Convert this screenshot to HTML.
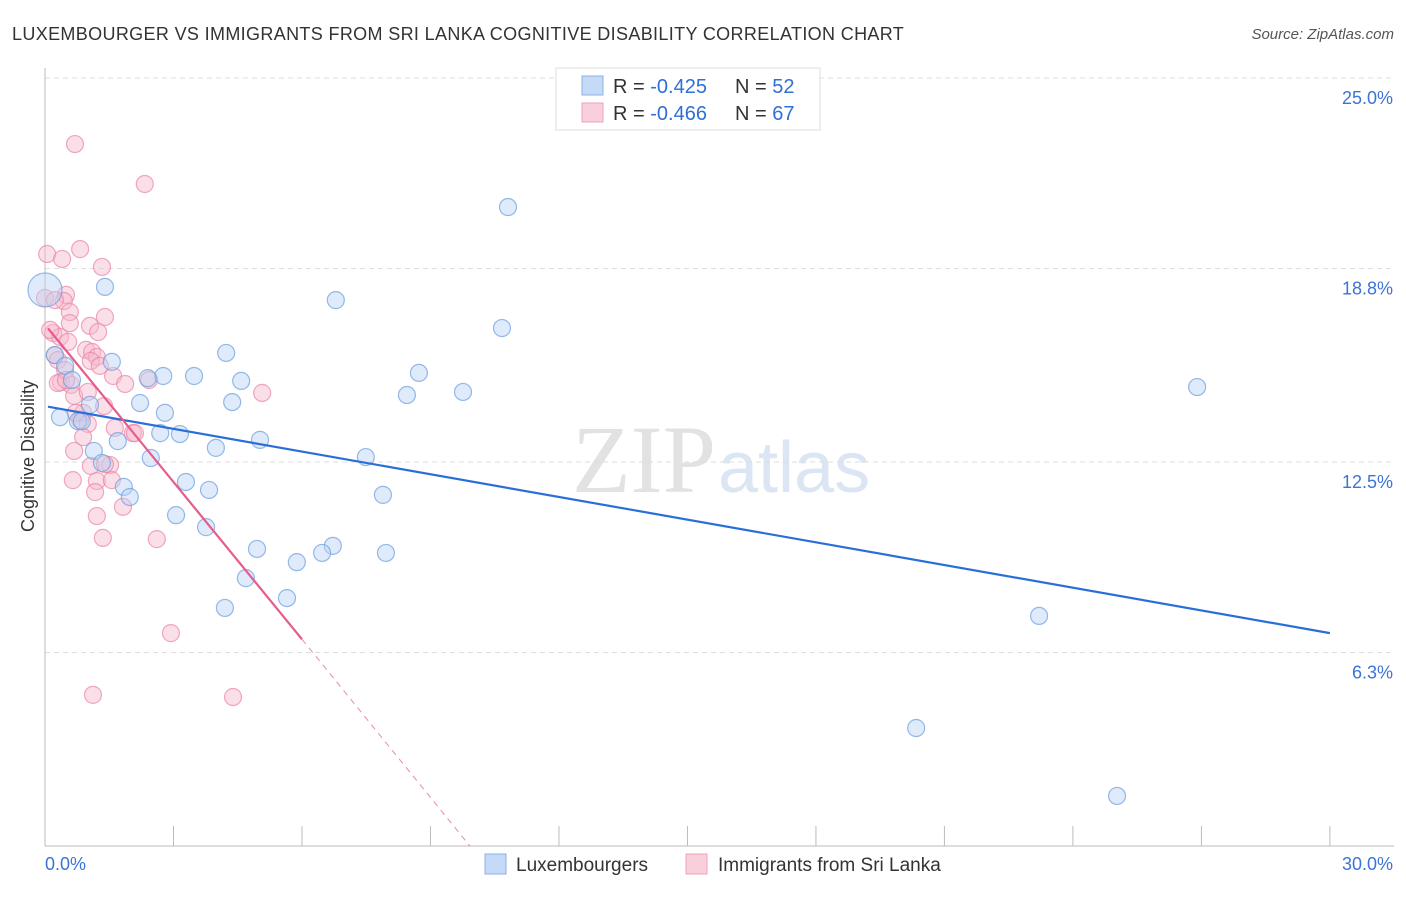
<!DOCTYPE html>
<html><head><meta charset="utf-8"><style>
body{margin:0;background:#fff;font-family:"Liberation Sans",sans-serif;}
</style></head><body>
<svg width="1406" height="892" xmlns="http://www.w3.org/2000/svg">
<text x="12" y="40" font-size="18" fill="#333" letter-spacing="0.35">LUXEMBOURGER VS IMMIGRANTS FROM SRI LANKA COGNITIVE DISABILITY CORRELATION CHART</text>
<text x="1394" y="39" font-size="15" fill="#555" text-anchor="end" font-style="italic">Source: ZipAtlas.com</text>
<text x="34" y="456" font-size="18" fill="#333" text-anchor="middle" transform="rotate(-90 34 456)">Cognitive Disability</text>
<text x="716" y="492" font-size="96" fill="#e2e2e2" text-anchor="end" font-family="Liberation Serif,serif">ZIP</text>
<text x="718" y="492" font-size="72" fill="#dbe5f4">atlas</text>
<g id="grid"></g><g id="axes"></g><g id="marks"></g>
<g>
<rect x="556" y="68" width="264" height="62" fill="#fff" stroke="#ddd"/>
<rect x="582" y="76" width="21" height="19" fill="#c4daf6" stroke="#8bb2e6"/>
<rect x="582" y="103" width="21" height="19" fill="#f9cfdc" stroke="#eea0b9"/>
<text x="613" y="93" font-size="20" fill="#333">R = <tspan fill="#2f6fd6">-0.425</tspan></text>
<text x="735" y="93" font-size="20" fill="#333">N = <tspan fill="#2f6fd6">52</tspan></text>
<text x="613" y="120" font-size="20" fill="#333">R = <tspan fill="#2f6fd6">-0.466</tspan></text>
<text x="735" y="120" font-size="20" fill="#333">N = <tspan fill="#2f6fd6">67</tspan></text>
</g>
<g>
<rect x="485" y="854" width="21" height="20" fill="#c4daf6" stroke="#8bb2e6"/>
<text x="516" y="871" font-size="19" fill="#333">Luxembourgers</text>
<rect x="686" y="854" width="21" height="20" fill="#f9cfdc" stroke="#eea0b9"/>
<text x="718" y="871" font-size="19" fill="#333">Immigrants from Sri Lanka</text>
</g>
</svg>
<script>
const yTicks=[25.0,18.8,12.5,6.3];
const yTickLabels=["25.0%","18.8%","12.5%","6.3%"];
const xTickLabels=["0.0%","30.0%"];
const bluePx=[[45,290],[105,287],[336,300],[508,207],[502,328],[55,355],[112,362],[226,353],[65,366],[194,376],[241,381],[163,376],[148,378],[419,373],[407,395],[463,392],[1197,387],[140,403],[232,402],[90,405],[165,413],[60,417],[78,421],[118,441],[160,433],[180,434],[216,448],[260,440],[94,451],[366,457],[151,458],[102,463],[124,487],[186,482],[130,497],[209,490],[383,495],[176,515],[206,527],[257,549],[333,546],[322,553],[386,553],[297,562],[246,578],[287,598],[225,608],[1039,616],[916,728],[1117,796],[72,380],[82,421]];
const pinkPx=[[75,144],[145,184],[47,254],[62,259],[80,249],[102,267],[45,298],[66,295],[64,301],[70,312],[105,317],[90,326],[98,332],[53,333],[60,337],[70,323],[55,355],[68,342],[86,350],[92,352],[97,357],[91,361],[113,376],[149,380],[125,384],[61,382],[71,385],[58,383],[74,396],[262,393],[104,406],[83,413],[80,420],[88,424],[115,428],[133,433],[83,437],[74,451],[91,466],[110,465],[105,464],[73,480],[97,481],[112,480],[95,492],[123,507],[97,516],[103,538],[157,539],[171,633],[93,695],[233,697],[58,360],[65,370],[76,413],[135,433],[55,300],[50,330],[100,366],[66,380],[88,392]];
const blueX=bluePx.map(p=>+((p[0]-45)/42.83).toFixed(2));
const blueY=bluePx.map(p=>+((846-p[1])/30.72).toFixed(2));
const pinkX=pinkPx.map(p=>+((p[0]-45)/42.83).toFixed(2));
const pinkY=pinkPx.map(p=>+((846-p[1])/30.72).toFixed(2));
const blueTrend=[[0.07,14.3],[30,6.93]];
const pinkTrend=[[0.07,16.85],[6.0,6.73],[9.92,0]];
const X=v=>45+v*42.83, Y=v=>846-v*30.72;
const NS="http://www.w3.org/2000/svg";
function mk(tag,attrs,parent){const e=document.createElementNS(NS,tag);for(const k in attrs)e.setAttribute(k,attrs[k]);document.getElementById(parent).appendChild(e);return e;}
yTicks.forEach((t,i)=>{
 const l=mk('line',{x1:45,x2:1394,y1:Y(t),y2:Y(t),stroke:'#ddd','stroke-dasharray':'5,4'},'grid');
 
 
 const tx=mk('text',{x:1393,y:Y(t)+26,'font-size':18,fill:'#3b74d6','text-anchor':'end'},'grid');
 tx.textContent=yTickLabels[i];
 
 
});
const ax=mk('line',{x1:45,x2:1394,y1:846,y2:846,stroke:'#bbb'},'axes');


const ay=mk('line',{x1:45,x2:45,y1:68,y2:846,stroke:'#bbb'},'axes');


for(let i=0;i<=10;i++){const t=mk('line',{x1:X(i*3),x2:X(i*3),y1:826,y2:846,stroke:'#bbb'},'axes');
 
 }
[[0,45,'start'],[30,1393,'end']].forEach((d,i)=>{const t=mk('text',{x:d[1],y:870,'font-size':18,fill:'#3b74d6','text-anchor':d[2]},'axes');t.textContent=xTickLabels[i];
 
 });
function dots(xs,ys,fill,stroke,name){xs.forEach((x,i)=>{const c=mk('circle',{cx:X(x),cy:Y(ys[i]),r:(i===0&&name==='blue-point')?17:8.5,fill:fill,'fill-opacity':0.45,stroke:stroke,'stroke-opacity':0.7,'stroke-width':1.2},'marks');
 
 });}
dots(pinkX,pinkY,'#f6b9cc','#ea84a5','pink-point');
dots(blueX,blueY,'#b9d2f4','#6a9de0','blue-point');
const bl=mk('line',{x1:X(blueTrend[0][0]),y1:Y(blueTrend[0][1]),x2:X(blueTrend[1][0]),y2:Y(blueTrend[1][1]),stroke:'#2a6fd8','stroke-width':2.2},'marks');


const pl=mk('line',{x1:X(pinkTrend[0][0]),y1:Y(pinkTrend[0][1]),x2:X(pinkTrend[1][0]),y2:Y(pinkTrend[1][1]),stroke:'#e55d8b','stroke-width':2.2},'marks');


const pd=mk('line',{x1:X(pinkTrend[1][0]),y1:Y(pinkTrend[1][1]),x2:X(pinkTrend[2][0]),y2:Y(pinkTrend[2][1]),stroke:'#e88aa8','stroke-width':1,'stroke-dasharray':'6,5'},'marks');


</script>
</body></html>
